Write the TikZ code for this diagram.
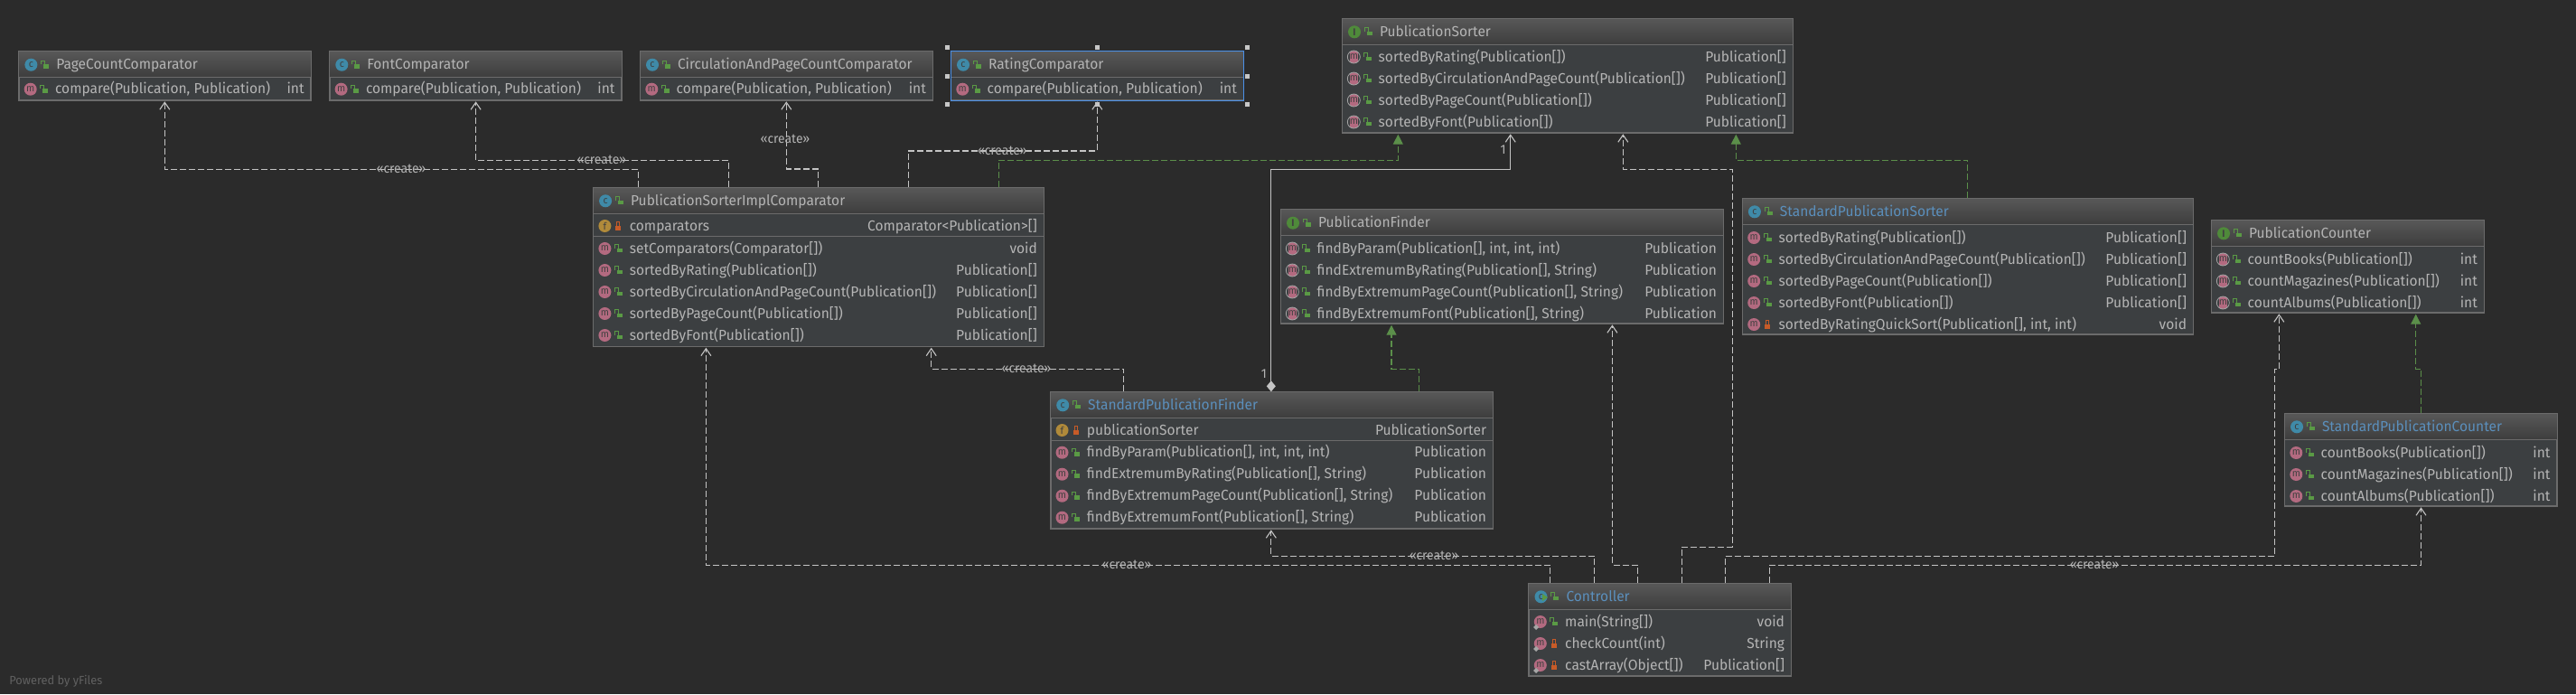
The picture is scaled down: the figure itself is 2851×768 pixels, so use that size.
\documentclass[tikz,border=0pt]{standalone}
\usepackage{fontspec}
\setmainfont[FakeStretch=0.97]{Fira Sans}
\usetikzlibrary{arrows.meta}

\definecolor{bgc}{HTML}{2B2B2B}
\definecolor{bodyc}{HTML}{3C3F41}
\definecolor{headtop}{HTML}{585858}
\definecolor{headlow}{HTML}{3D3D3D}
\definecolor{framec}{HTML}{6B6B6B}
\definecolor{textc}{HTML}{B4B4B4}
\definecolor{linkc}{HTML}{5B8FBC}
\definecolor{depc}{HTML}{C4C4C4}
\definecolor{implc}{HTML}{5B8F4A}
\definecolor{lockpub}{HTML}{5A9A45}
\definecolor{lockpriv}{HTML}{C75B28}
\definecolor{ballc}{HTML}{3F8AA8}
\definecolor{balli}{HTML}{4F8A3A}
\definecolor{ballm}{HTML}{B36A80}
\definecolor{ballf}{HTML}{B08A3A}
\definecolor{selc}{HTML}{4A90E8}

\tikzset{
	umlframe/.style={draw=framec,line width=.5pt,fill=bodyc,anchor=north west,inner sep=0pt},
	titletext/.style={text=textc,anchor=mid west,inner sep=0pt,font=\fontsize{8}{9}\selectfont},
	linktext/.style={titletext,text=linkc},
	rowtext/.style={text=textc,inner sep=0pt,font=\fontsize{8}{9}\selectfont},
	ball/.style={circle,inner sep=0pt,minimum size=7pt,text=black!75,font=\fontsize{5.5}{6}\selectfont},
	cball/.style={ball,fill=ballc},
	iball/.style={ball,fill=balli,font=\fontsize{5.5}{6}\selectfont\bfseries},
	mball/.style={ball,fill=ballm},
	fball/.style={ball,fill=ballf},
	absball/.style={ball,draw=black!35,line width=.4pt,fill=bodyc,path picture={
		\fill[ballm] ([xshift=-2.4pt]path picture bounding box.south) rectangle ([xshift=2.4pt]path picture bounding box.north);}},
	creates/.style={depc,line width=.55pt,dash pattern=on 3.5pt off 1.5pt,-{Straight Barb[length=4pt,width=5.5pt]}},
	realizes/.style={implc,line width=.55pt,dash pattern=on 3.5pt off 1.5pt,-{Triangle[length=5.5pt,width=5.5pt]}},
	holds/.style={depc,line width=.55pt,{Diamond[length=6pt,width=5pt]}-{Straight Barb[length=4pt,width=5.5pt]}},
	stereo/.style={text=textc,inner sep=0pt,font=\fontsize{7.2}{8}\selectfont},
	handle/.style={fill=black!22,draw=none},
}

\newcommand{\publock}[2]{
	\draw[lockpub,line width=.45pt] (#1-4,#2-.5) -- (#1-4,#2-4.5) -- (#1,#2-4.5) -- (#1,#2-.5);
	\fill[lockpub] (#1-1.5,#2-.5) rectangle (#1+4.5,#2+4);
}
\newcommand{\privlock}[2]{
	\draw[lockpriv,line width=.45pt] (#1-1.5,#2-.5) -- (#1-1.5,#2-4.5) -- (#1+1.5,#2-4.5) -- (#1+1.5,#2-.5);
	\fill[lockpriv] (#1-3,#2-.5) rectangle (#1+3,#2+4.5);
}

% frame, header band and title of one box
\newcommand{\umlbox}[9][titletext]{
	\node[umlframe,minimum width=#5*.5pt,minimum height=#6*.5pt] (#2) at (#3,#4) {};
	\shade[top color=headtop,bottom color=headlow] (#2.north west) rectangle ([yshift=-14.5pt]#2.north east);
	\draw[framec,line width=.5pt] ([yshift=-14.5pt]#2.north west) -- ([yshift=-14.5pt]#2.north east);
	\draw[framec,line width=.5pt] (#2.north west) rectangle (#2.south east);
	\node[#7] (#2ball) at (#3+13.7,#4+15) {#8};
	\publock{#3+29}{#4+15}
	\node[#1] (#2title) at (#3+41.3,#4+15) {#9};
}

% rows: ball style, letter, lock, box name, x, width, first y, list of text/type
\newcommand{\umlrows}[8]{
	\foreach \rowname/\rowtype [count=\rownum from 0] in {#8} {
		\pgfmathsetmacro\rowy{#7+24*\rownum}
		\node[#1] (#4ball\rownum) at (#5+13,\rowy) {#2};
		#3{#5+28}{\rowy}
		\node[rowtext,anchor=mid west] (#4name\rownum) at (#5+40,\rowy) {\rowname};
		\node[rowtext,anchor=mid east] (#4type\rownum) at (#5+#6-6.4,\rowy) {\rowtype};
	}
}

\begin{document}
\begin{tikzpicture}[x=.5pt,y=-.5pt]
	\fill[bgc] (0,0) rectangle (2851,768);

	\umlbox{page}{20.7}{56.7}{322.7}{53.6}{cball}{c}{PageCountComparator}
	\umlrows{mball}{m}{\publock}{page}{20.7}{322.7}{98.7}{{compare(Publication, Publication)}/int}
	\umlbox{font}{364.6}{56.7}{322.7}{53.6}{cball}{c}{FontComparator}
	\umlrows{mball}{m}{\publock}{font}{364.6}{322.7}{98.7}{{compare(Publication, Publication)}/int}
	\umlbox{circ}{708.3}{56.7}{323.4}{53.6}{cball}{c}{CirculationAndPageCountComparator}
	\umlrows{mball}{m}{\publock}{circ}{708.3}{323.4}{98.7}{{compare(Publication, Publication)}/int}
	\umlbox{rating}{1052.3}{56.7}{323.4}{53.6}{cball}{c}{RatingComparator}
	\umlrows{mball}{m}{\publock}{rating}{1052.3}{323.4}{98.7}{{compare(Publication, Publication)}/int}
	\draw[selc,line width=.7pt] (rating.north west) rectangle (rating.south east);
	\foreach \hx/\hy [count=\hn] in {1048.3/52.3,1214.3/52.3,1380.3/52.3,1048.3/84,1380.3/84,1048.3/115.3,1214.3/115.3,1380.3/115.3}
		\node[handle,inner sep=0pt,minimum size=2.5pt] (hnd\hn) at (\hx,\hy) {};

	\umlbox{sorter}{1485.3}{20.3}{498.4}{126}{iball}{I}{PublicationSorter}
	\umlrows{absball}{m}{\publock}{sorter}{1485.3}{498.4}{63}{{sortedByRating(Publication[])}/{Publication[]},{sortedByCirculationAndPageCount(Publication[])}/{Publication[]},{sortedByPageCount(Publication[])}/{Publication[]},{sortedByFont(Publication[])}/{Publication[]}}

	\umlbox{impl}{656.4}{207.3}{498.2}{175.4}{cball}{c}{PublicationSorterImplComparator}
	\draw[framec,line width=.5pt] (656.4,261.3) -- (1154.6,261.3);
	\umlrows{fball}{f}{\privlock}{implfield}{656.4}{498.2}{250}{comparators/{Comparator<Publication>[]}}
	\umlrows{mball}{m}{\publock}{impl}{656.4}{498.2}{275}{{setComparators(Comparator[])}/void,{sortedByRating(Publication[])}/{Publication[]},{sortedByCirculationAndPageCount(Publication[])}/{Publication[]},{sortedByPageCount(Publication[])}/{Publication[]},{sortedByFont(Publication[])}/{Publication[]}}

	\umlbox{finder}{1417.3}{231.7}{489.4}{125.6}{iball}{I}{PublicationFinder}
	\umlrows{absball}{m}{\publock}{finder}{1417.3}{489.4}{275}{{findByParam(Publication[], int, int, int)}/Publication,{findExtremumByRating(Publication[], String)}/Publication,{findByExtremumPageCount(Publication[], String)}/Publication,{findByExtremumFont(Publication[], String)}/Publication}

	\umlbox[linktext]{stdsorter}{1928.2}{219.3}{498.6}{150}{cball}{c}{StandardPublicationSorter}
	\umlrows{mball}{m}{\publock}{stdsorter}{1928.2}{498.6}{263}{{sortedByRating(Publication[])}/{Publication[]},{sortedByCirculationAndPageCount(Publication[])}/{Publication[]},{sortedByPageCount(Publication[])}/{Publication[]},{sortedByFont(Publication[])}/{Publication[]}}
	\umlrows{mball}{m}{\privlock}{stdsorterq}{1928.2}{498.6}{359}{{sortedByRatingQuickSort(Publication[], int, int)}/void}

	\umlbox{counter}{2447.3}{243.3}{301.4}{102}{iball}{I}{PublicationCounter}
	\umlrows{absball}{m}{\publock}{counter}{2447.3}{301.4}{287}{{countBooks(Publication[])}/int,{countMagazines(Publication[])}/int,{countAlbums(Publication[])}/int}

	\umlbox[linktext]{stdfinder}{1162.5}{433.3}{489.3}{151}{cball}{c}{StandardPublicationFinder}
	\draw[framec,line width=.5pt] (1162.5,487.3) -- (1651.8,487.3);
	\umlrows{fball}{f}{\privlock}{stdfinderfield}{1162.5}{489.3}{476}{publicationSorter/PublicationSorter}
	\umlrows{mball}{m}{\publock}{stdfinder}{1162.5}{489.3}{500.7}{{findByParam(Publication[], int, int, int)}/Publication,{findExtremumByRating(Publication[], String)}/Publication,{findByExtremumPageCount(Publication[], String)}/Publication,{findByExtremumFont(Publication[], String)}/Publication}

	\umlbox[linktext]{stdcounter}{2528.3}{457.3}{301}{102}{cball}{c}{StandardPublicationCounter}
	\umlrows{mball}{m}{\publock}{stdcounter}{2528.3}{301}{501}{{countBooks(Publication[])}/int,{countMagazines(Publication[])}/int,{countAlbums(Publication[])}/int}

	\umlbox[linktext]{ctrl}{1691.8}{645.3}{290}{102}{cball}{c}{Controller}
	\fill[lockpub] (1707,657) -- (1713,661) -- (1707,665) -- cycle;
	\umlrows{mball}{m}{\publock}{ctrl}{1691.8}{290}{688}{{main(String[])}/void}
	\umlrows{mball}{m}{\privlock}{ctrlp}{1691.8}{290}{712}{checkCount(int)/String,{castArray(Object[])}/{Publication[]}}
	\foreach \py in {688,712,736}
		\fill[black!35] (1700,\py+3) -- (1703,\py+6) -- (1700,\py+9) -- (1697,\py+6) -- cycle;

	\draw[creates] ([xshift=24.95pt]impl.north west) |- (182.3,187.3) -- ([xshift=80.8pt,yshift=-.5pt]page.south west);
	\draw[creates] ([xshift=74.95pt]impl.north west) |- (526.6,177.3) -- ([xshift=81pt,yshift=-.5pt]font.south west);
	\draw[creates] ([xshift=124.45pt]impl.north west) |- (870.3,187) -- ([xshift=81pt,yshift=-.5pt]circ.south west);
	\draw[creates] ([xshift=174.45pt]impl.north west) |- (1214.3,167) -- ([xshift=81pt,yshift=-.5pt]rating.south west);
	\draw[realizes] ([xshift=224.45pt]impl.north west) |- (1547.3,177.3) -- ([xshift=31pt,yshift=-.7pt]sorter.south west);
	\draw[realizes] ([xshift=124.65pt]stdsorter.north west) |- (1921.3,177.3) -- ([xshift=218pt,yshift=-.7pt]sorter.south west);
	\draw[realizes] ([xshift=204pt]stdfinder.north west) |- (1540,408.3) -- ([xshift=61.35pt,yshift=-.7pt]finder.south west);
	\draw[realizes] ([xshift=75.6pt]stdcounter.north west) |- (2673.7,408.3) -- ([xshift=113.2pt,yshift=-.7pt]counter.south west);
	\draw[holds] ([xshift=122.15pt]stdfinder.north west) |- (1671.7,187.3) -- ([xshift=93.2pt,yshift=-.5pt]sorter.south west);
	\draw[creates] ([xshift=40.55pt]stdfinder.north west) |- (1030.7,408.3) -- ([xshift=187.15pt,yshift=-.5pt]impl.south west);
	\draw[creates] ([xshift=11.95pt]ctrl.north west) |- (781.4,625.3) -- ([xshift=62.5pt,yshift=-.5pt]impl.south west);
	\draw[creates] ([xshift=36.4pt]ctrl.north west) |- (1406.8,615.3) -- ([xshift=122.15pt,yshift=-.5pt]stdfinder.south west);
	\draw[creates] ([xshift=60.35pt]ctrl.north west) |- (1784.4,625.3) -- ([xshift=183.55pt,yshift=-.5pt]finder.south west);
	\draw[creates] ([xshift=84.8pt]ctrl.north west) |- (1917.4,605.3) -- (1917.4,187.3) -| ([xshift=155.5pt,yshift=-.5pt]sorter.south west);
	\draw[creates] ([xshift=108.9pt]ctrl.north west) |- (2517.7,615.3) -- (2517.7,408.3) -| ([xshift=37.5pt,yshift=-.5pt]counter.south west);
	\draw[creates] ([xshift=133.2pt]ctrl.north west) |- (2679.5,625.3) -- ([xshift=75.6pt,yshift=-.5pt]stdcounter.south west);

	\node[stereo] (lblpage) at (444,187.3) {«create»};
	\node[stereo] (lblfont) at (665.8,177.3) {«create»};
	\node[stereo] (lblcirc) at (869,153.7) {«create»};
	\node[stereo] (lblrating) at (1109.3,167) {«create»};
	\node[stereo] (lblimpl) at (1136,408.3) {«create»};
	\node[stereo] (lblimplb) at (1247,625.3) {«create»};
	\node[stereo] (lblfinder) at (1587,615.3) {«create»};
	\node[stereo] (lblcounter) at (2318,625) {«create»};
	\node[stereo] (oneup) at (1663.7,165.7) {1};
	\node[stereo] (onedown) at (1399,413.3) {1};
	\node[stereo,anchor=mid west,text=black!62,font=\fontsize{6.6}{8}\selectfont] (poweredby) at (10,752) {Powered by yFiles};
\end{tikzpicture}
\end{document}
